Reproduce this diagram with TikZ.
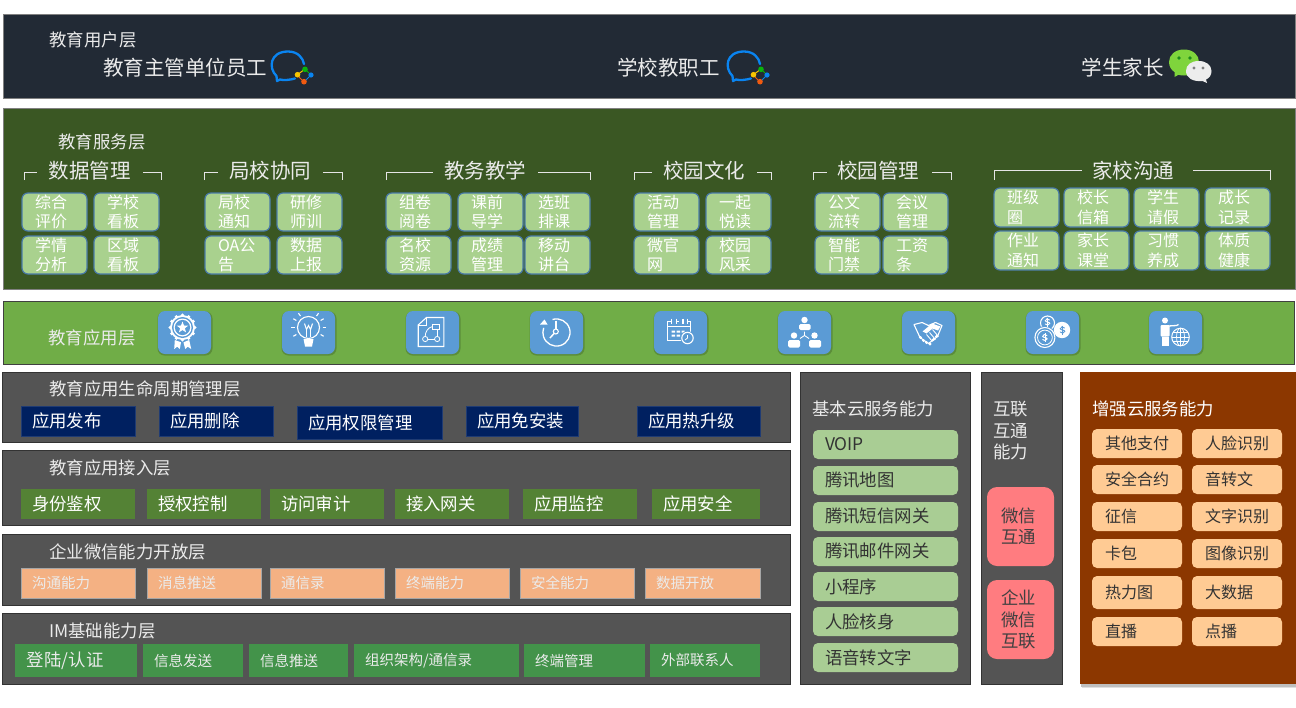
\documentclass[tikz,border=0pt]{standalone}
\usepackage{fontspec}
\setmainfont{Noto Sans CJK SC}
\newcounter{bxc}
\newcommand\mybox[7][11]{\stepcounter{bxc}\edef\bxname{b\arabic{bxc}}%
  \node[#2,inner sep=0pt,outer sep=0pt,align=left,minimum width={(#5-#3)*1pt},minimum height={(#6-#4)*1pt},text width={(#5-#3-2*#1)*1pt}] (\bxname) at ({(#3+#5)/2},{(#4+#6)/2}) {#7};}
\newcommand\tile[6][13]{\mybox[#1]{tilebox}{#2}{#3}{#4}{#5}{#6}}
\tikzset{
  f14/.style={font=\fontsize{14.5}{18}\selectfont},
  f16/.style={font=\fontsize{16}{19.5}\selectfont},
  f17/.style={font=\fontsize{17.4}{21.5}\selectfont},
  f20/.style={font=\fontsize{20.5}{24}\selectfont},
  lab/.style={f17,text=#1,anchor=west,inner sep=0pt},
  lab/.default=white!92!black,
  bar/.style={draw=#1,line width=.8pt},
  tilebox/.style={f16,rounded corners=6pt,draw=tileedge,line width=1.2pt,fill=tilefill,text=white},
  blu/.style={f17,fill=navyb,draw=navyb!88!white,line width=.4pt,text=white},
  grn/.style={f17,fill=greenb,text=white},
  org/.style={f14,fill=orangeb,draw=gray!70,line width=.3pt,text=white!92!black},
  img/.style={f14,fill=imgreen,text=white!92!black},
  imb/.style={f17,fill=imgreen,text=white!92!black},
  cloud/.style={f17,fill=cloudg,rounded corners=5pt,text=black!80},
  pinkb/.style={f17,fill=pinkc,rounded corners=10pt,text=black!75},
  peach/.style={f16,fill=peachc,rounded corners=5pt,text=black!80},
  brk/.style={draw=white!90!black,line width=1pt},
  ic/.style={draw=white,fill=none,line width=1.1pt},
}
\definecolor{topc}{HTML}{222A35}
\definecolor{svc}{HTML}{3A5723}
\definecolor{appc}{HTML}{70AD47}
\definecolor{panelc}{HTML}{545454}
\definecolor{brownc}{HTML}{8C3700}
\definecolor{tilefill}{HTML}{A9D18E}
\definecolor{tileedge}{HTML}{4A7BA8}
\definecolor{navyb}{HTML}{002060}
\definecolor{greenb}{HTML}{548235}
\definecolor{orangeb}{HTML}{F4B183}
\definecolor{imgreen}{HTML}{43934A}
\definecolor{cloudg}{HTML}{A9CD94}
\definecolor{pinkc}{HTML}{FF7C80}
\definecolor{peachc}{HTML}{FFCB94}
\definecolor{icoblue}{HTML}{5B9BD5}
\definecolor{wwblue}{HTML}{0A84F0}
\definecolor{wwgreen}{HTML}{0BB30B}
\definecolor{wworange}{HTML}{F05A10}
\definecolor{wwyellow}{HTML}{F7C400}
\definecolor{wxgreen}{HTML}{7FD43C}
\definecolor{wxdark}{HTML}{1C8A1C}
\newcommand\wework[1]{\begin{scope}[shift={(#1,0)}]
  \draw[draw=wwblue,line width=2.3pt,line cap=round,line join=round] (295,78.5) .. controls (290,80) and (283,80.5) .. (280,79.5) -- (277,81) -- (276.5,76) .. controls (268,68) and (270,51.5) .. (288,51.5) .. controls (298,51.5) and (303,58) .. (304,64);
  \draw[draw=wwgreen,line width=1pt] (305,69) -- (311,75);
  \draw[draw=wwblue,line width=1pt] (311,75) -- (304,82);
  \draw[draw=wworange,line width=1pt] (304,82) -- (297,75);
  \draw[draw=wwyellow,line width=1pt] (297,75) -- (305,69);
  \fill[wwgreen] (305,69.3) circle[radius=2.8];
  \fill[wwblue] (311,75) circle[radius=2.6];
  \fill[wworange] (304,81.7) circle[radius=2.8];
  \fill[wwyellow] (297.5,74.7) circle[radius=2.8];
\end{scope}}
\newcommand\tileico[2]{\fill[black,opacity=.18,rounded corners=7pt] (#1-.5,311.5) rectangle (#1+54.5,355.5);
  \stepcounter{bxc}\edef\bxname{b\arabic{bxc}}\node[rounded corners=7pt,fill=icoblue,inner sep=0pt,minimum width=53pt,minimum height=43pt] (\bxname) at (#1+26.5,332.5) {};
  \begin{scope}[shift={(#1+26.5,332.5)}] #2 \end{scope}}
\newcommand\mydollar[3]{\draw[#3,line width=1pt,line cap=round] (#1+2,#2-2) .. controls (#1+1,#2-3.5) and (#1-2.5,#2-3.5) .. (#1-2.2,#2-1.2) .. controls (#1-2,#2+.3) and (#1+2.3,#2-.3) .. (#1+2.2,#2+1.4) .. controls (#1+2,#2+3.5) and (#1-1.5,#2+3.5) .. (#1-2.2,#2+2);
  \draw[#3,line width=.7pt] (#1,#2-4.5) -- (#1,#2+4.5);}
\begin{document}
\begin{tikzpicture}[x=1pt,y=-1pt]
\useasboundingbox (0,0) rectangle (1296,707);
\fill[white] (0,0) rectangle (1296,707);
% top layer
\mybox{bar=gray,fill=topc}{3}{14}{1295}{98}{}
\node[lab,anchor=center] (u0) at (93,40) {教育用户层};
\node[f20,text=white!92!black,inner sep=0pt] (u1) at (185,68) {教育主管单位员工};
\node[f20,text=white!92!black,inner sep=0pt] (u2) at (668.5,68) {学校教职工};
\node[f20,text=white!92!black,inner sep=0pt] (u3) at (1122.5,68) {学生家长};
\wework{0}\wework{456}
% wechat
\fill[wxgreen] (1184,49.5) .. controls (1193,49.5) and (1199,55) .. (1199,62) .. controls (1199,70) and (1192,75.5) .. (1184,75.5) .. controls (1182,75.5) and (1180,75.3) .. (1178.5,74.8) -- (1174.5,77) -- (1174.5,72) .. controls (1171,70) and (1169,66) .. (1169,62) .. controls (1169,55) and (1175,49.5) .. (1184,49.5) -- cycle;
\fill[wxdark] (1179,58) circle[radius=1.9] (1190,58) circle[radius=1.9];
\fill[white!93!black] (1198.7,61) .. controls (1206,61) and (1211.5,65) .. (1211.5,71) .. controls (1211.5,75) and (1209.5,78) .. (1206,79.5) -- (1207,83) -- (1202.5,81) .. controls (1193,82) and (1186,78) .. (1186,71) .. controls (1186,65) and (1191,61) .. (1198.7,61) -- cycle;
\fill[gray] (1194,68) circle[radius=1.7] (1203,68) circle[radius=1.7];
% service layer
\mybox{bar=gray,fill=svc}{3}{108}{1295}{289}{}
\node[lab,anchor=center] (s0) at (102,142) {教育服务层};
\node[f20,text=white!92!black,inner sep=0pt] (h1) at (89.5,171) {数据管理};
\node[f20,text=white!92!black,inner sep=0pt] (h2) at (270,171) {局校协同};
\node[f20,text=white!92!black,inner sep=0pt] (h3) at (485,171) {教务教学};
\node[f20,text=white!92!black,inner sep=0pt] (h4) at (704,171) {校园文化};
\node[f20,text=white!92!black,inner sep=0pt] (h5) at (878,171) {校园管理};
\node[f20,text=white!92!black,inner sep=0pt] (h6) at (1133,171) {家校沟通};
\draw[brk] (24,180)--(24,172)--(37,172); \draw[brk] (143,172)--(161,172)--(161,180);
\draw[brk] (204,180)--(204,172)--(218,172); \draw[brk] (323,172)--(342,172)--(342,180);
\draw[brk] (386,180)--(386,172)--(433,172); \draw[brk] (538,172)--(590,172)--(590,180);
\draw[brk] (634,180)--(634,172)--(652,172); \draw[brk] (757,172)--(771,172)--(771,180);
\draw[brk] (813,180)--(813,172)--(827,172); \draw[brk] (932,172)--(951,172)--(951,180);
\draw[brk] (994,180)--(994,170)--(1082,170); \draw[brk] (1193,170)--(1270,170)--(1270,180);
\tile{22}{193}{87}{231}{综合\\评价}\tile{94}{193}{159}{231}{学校\\看板}
\tile{22}{236}{87}{274}{学情\\分析}\tile{94}{236}{159}{274}{区域\\看板}
\tile{205}{193}{270}{231}{局校\\通知}\tile{277}{193}{342}{231}{研修\\师训}
\tile{205}{236}{270}{274}{OA公\\告}\tile{277}{236}{342}{274}{数据\\上报}
\tile{386}{193}{451}{231}{组卷\\阅卷}\tile{458}{193}{523}{231}{课前\\导学}\tile{525}{193}{590}{231}{选班\\排课}
\tile{386}{236}{451}{274}{名校\\资源}\tile{458}{236}{523}{274}{成绩\\管理}\tile{525}{236}{590}{274}{移动\\讲台}
\tile{634}{193}{699}{231}{活动\\管理}\tile{706}{193}{771}{231}{一起\\悦读}
\tile{634}{236}{699}{274}{微官\\网}\tile{706}{236}{771}{274}{校园\\风采}
\tile{815}{193}{880}{231}{公文\\流转}\tile{883}{193}{948}{231}{会议\\管理}
\tile{815}{236}{880}{274}{智能\\门禁}\tile{883}{236}{948}{274}{工资\\条}
\tile{994}{188}{1059}{227}{班级\\圈}\tile{1064}{188}{1129}{227}{校长\\信箱}\tile{1134}{188}{1199}{227}{学生\\请假}\tile{1205}{188}{1270}{227}{成长\\记录}
\tile{994}{231}{1059}{270}{作业\\通知}\tile{1064}{231}{1129}{270}{家长\\课堂}\tile{1134}{231}{1199}{270}{习惯\\养成}\tile{1205}{231}{1270}{270}{体质\\健康}
% app layer
\mybox{bar=black!75,fill=appc}{3}{301}{1294}{364}{}
\node[lab,anchor=center] (a0) at (92,338) {教育应用层};
\tileico{158}{
  \foreach \a in {0,30,...,330} {\fill[white] ([shift={(-2,-5)}]\a:12.3) circle[radius=1.9];}
  \fill[white] (-2,-5) circle[radius=12.5];
  \fill[icoblue] (-2,-5) circle[radius=10.5];
  \fill[white] (-2,-5) circle[radius=9];
  \fill[icoblue] (-2,-5) circle[radius=7.6];
  \fill[white] ([shift={(-2,-5)}]-90:6) -- ([shift={(-2,-5)}]-54:2.5) -- ([shift={(-2,-5)}]-18:6) -- ([shift={(-2,-5)}]18:2.5) -- ([shift={(-2,-5)}]54:6) -- ([shift={(-2,-5)}]90:2.5) -- ([shift={(-2,-5)}]126:6) -- ([shift={(-2,-5)}]162:2.5) -- ([shift={(-2,-5)}]198:6) -- ([shift={(-2,-5)}]234:2.5) -- cycle;
  \fill[white] (-9.7,7.5) -- (-3.5,9.8) -- (-4.7,16.5) -- (-7.3,14.2) -- (-10.3,16.5) -- cycle;
  \fill[white] (-1,9.8) -- (4.7,7.5) -- (6.7,16.5) -- (3.3,14.2) -- (0.7,16.5) -- cycle;
}
\tileico{282}{
  \draw[ic] (0,-5) circle[radius=11];
  \fill[white] (-5,6.5) -- (5,6.5) -- (3.5,14) -- (-3.5,14) -- cycle;
  \draw[ic] (-4,-9) -- (-2,-3) -- (0,-7) -- (2,-3) -- (4,-9);
  \draw[ic] (-2,-3) -- (-2,4) (2,-3) -- (2,4);
  \foreach \a in {-150,-125,-55,-30,0,180,30,150} {\draw[ic] ([shift={(0,-5)}]\a:14) -- ([shift={(0,-5)}]\a:17.5);}
}
\tileico{406}{
  \draw[ic] (-14.3,-7.5) -- (-6,-15) -- (11.3,-15) -- (11.3,14) -- (-14.3,14) -- cycle;
  \draw[ic,line width=.8pt] (-6,-15) -- (-6,-7.5) -- (-14.3,-7.5);
  \draw[ic,line width=.8pt] (0,-8) rectangle (7.3,-3.5);
  \draw[ic,line width=.8pt] (-7.3,6.5) circle[radius=2.6] (4.7,6.5) circle[radius=2.6];
  \draw[ic,line width=.8pt] (-4.7,6.5) -- (2,6.5) (4.7,-3.5) -- (4.7,3.9);
  \draw[ic,line width=.8pt] (0,-6) .. controls (-5,-5) and (-7.3,0) .. (-7.3,3.9);
}
\tileico{530}{
  \draw[ic,line width=1.3pt] (-4,-13) arc[start angle=-107,end angle=200,radius=13.6];
  \fill[white] (-16.5,-8) -- (-9,-8) -- (-12,-13) -- cycle;
  \draw[ic,line width=1.5pt] (-.7,-12) -- (-.7,-4);
  \draw[ic] (-.7,-1) circle[radius=2.5];
  \draw[ic,line width=1.5pt] (-2.5,1) -- (-6.5,5.5);
}
\tileico{654}{
  \draw[ic] (6,-11) -- (10,-11) -- (10,-1) (2,8) -- (-13,8) -- (-13,-11) -- (-9,-11);
  \draw[ic] (-13,-6) -- (10,-6);
  \draw[ic] (-5,-11) -- (-2,-11) (2,-11) -- (3,-11);
  \draw[ic] (-9,-14) -- (-9,-8.5) (-4,-14) -- (-4,-8.5) (2.5,-14) -- (2.5,-8.5) (7,-14) -- (7,-8.5);
  \fill[white] (-9,-2) rectangle (-5.5,0) (-4,-2) rectangle (-.5,0) (1,-2) rectangle (4,0) (-9,2) rectangle (-5.5,4) (-4,2) rectangle (-.5,4);
  \fill[icoblue] (7,5.5) circle[radius=7];
  \draw[ic] (7,5.5) circle[radius=5.7];
  \draw[ic,line width=.8pt] (7,2.5) -- (7,5.5) -- (4.5,7.5);
}
\tileico{778}{
  \fill[white] (0,-12.5) circle[radius=3.2];
  \fill[white,rounded corners=1.5pt] (-5.5,-8.5) rectangle (6,-2.5);
  \fill[white] (-10.5,3) circle[radius=3.2];
  \fill[white,rounded corners=1.5pt] (-16.5,7.5) rectangle (-4.5,15);
  \fill[white] (10,3) circle[radius=3.2];
  \fill[white,rounded corners=1.5pt] (4.5,7.5) rectangle (16.5,15);
  \draw[ic,line width=.9pt] (0,-1) -- (0,3) -- (-4.5,6) (0,3) -- (4.5,6);
}
\tileico{902}{
  \draw[ic,line join=round] (-14.5,-8) -- (-6.5,-10) -- (0,-7) -- (7,-10) -- (13.5,-7) -- (9,4) -- (0,11) -- (-8.5,5) -- cycle;
  \fill[white] (-6,-1) -- (3.5,-9) -- (12,-6) -- (9.5,-2) -- (4,-4) -- (-2,1) -- cycle;
  \fill[white] (-8,5) circle[radius=1.6] (-5,8) circle[radius=1.6] (-2,10) circle[radius=1.6] (1.5,11.5) circle[radius=1.6] (5,7) circle[radius=1.6] (8,4) circle[radius=1.6];
  \draw[ic,line width=.9pt] (4,-3) -- (10,4) (1,0) -- (7,7) (-2,2) -- (4,9);
}
\tileico{1026}{
  \draw[ic] (-5,-9.5) circle[radius=7];
  \fill[icoblue] (-7.6,5) circle[radius=11.5];
  \draw[ic] (-7.6,5) circle[radius=10];
  \draw[ic,line width=.8pt] (-7.6,5) circle[radius=7.4];
  \mydollar{-7.6}{5}{white}
  \mydollar{-5}{-10.5}{white}
  \fill[white] (9.5,-2.5) circle[radius=8.2];
  \mydollar{10}{-2.5}{icoblue}
}
\tileico{1149}{
  \fill[white] (-10.5,-12) circle[radius=3];
  \fill[white,rounded corners=1pt] (-15,-7.5) rectangle (-6,4);
  \fill[white] (-13.5,4) rectangle (-7,13);
  \draw[ic,line width=1.3pt] (-7,-6.5) -- (1,-7) -- (3,-8);
  \fill[icoblue] (5,4.5) circle[radius=10];
  \draw[ic,line width=1pt] (5,4.5) circle[radius=8.8];
  \draw[ic,line width=.7pt] (5,4.5) ellipse[x radius=4,y radius=8.8];
  \draw[ic,line width=.7pt] (5,-4.3) -- (5,13.3) (-3.8,4.5) -- (13.8,4.5) (-2.7,.2) -- (12.7,.2) (-2.7,8.8) -- (12.7,8.8);
}
% dark layers
\mybox{bar=black!80,fill=panelc}{2}{372}{790}{442}{}
\mybox{bar=black!80,fill=panelc}{2}{450}{790}{525}{}
\mybox{bar=black!80,fill=panelc}{2}{534}{790}{605}{}
\mybox{bar=black!80,fill=panelc}{2}{613}{790}{684}{}
\node[lab] (l1) at (49,388.5) {教育应用生命周期管理层};
\node[lab] (l2) at (49,467.5) {教育应用接入层};
\node[lab] (l3) at (49,551.5) {企业微信能力开放层};
\node[lab] (l4) at (49,630.5) {IM基础能力层};
\mybox{blu}{21}{406}{135}{436}{应用发布}
\mybox{blu}{159}{406}{273}{436}{应用删除}
\mybox{blu}{297}{406}{442}{439}{应用权限管理}
\mybox{blu}{466}{406}{578}{436}{应用免安装}
\mybox{blu}{637}{406}{760}{436}{应用热升级}
\mybox{grn}{21}{489}{135}{519}{身份鉴权}
\mybox{grn}{147}{489}{261}{519}{授权控制}
\mybox{grn}{270}{489}{384}{519}{访问审计}
\mybox{grn}{395}{489}{509}{519}{接入网关}
\mybox{grn}{523}{489}{637}{519}{应用监控}
\mybox{grn}{652}{489}{760}{519}{应用安全}
\mybox{org}{21}{568}{135}{598}{沟通能力}
\mybox{org}{147}{568}{261}{598}{消息推送}
\mybox{org}{270}{568}{384}{598}{通信录}
\mybox{org}{395}{568}{509}{598}{终端能力}
\mybox{org}{520}{568}{634}{598}{安全能力}
\mybox{org}{645}{568}{760}{598}{数据开放}
\mybox[12]{imb}{15}{644}{137}{677}{登陆/认证}
\mybox{img}{143}{644}{243}{677}{信息发送}
\mybox{img}{249}{644}{348}{677}{信息推送}
\mybox{img}{354}{644}{519}{677}{组织架构/通信录}
\mybox{img}{524}{644}{645}{677}{终端管理}
\mybox{img}{650}{644}{760}{677}{外部联系人}
% right panels
\mybox{bar=black!80,fill=panelc}{800}{372}{970}{684}{}
\node[lab] (c0) at (812,409) {基本云服务能力};
\mybox[12]{cloud}{813}{430}{958}{459}{VOIP}
\mybox[12]{cloud}{813}{466}{958}{495}{腾讯地图}
\mybox[12]{cloud}{813}{502}{958}{531}{腾讯短信网关}
\mybox[12]{cloud}{813}{537}{958}{566}{腾讯邮件网关}
\mybox[12]{cloud}{813}{572}{958}{601}{小程序}
\mybox[12]{cloud}{813}{607}{958}{636}{人脸核身}
\mybox[12]{cloud}{813}{643}{958}{672}{语音转文字}
\mybox{bar=black!80,fill=panelc}{981}{372}{1062}{684}{}
\node[lab,align=left] (i0) at (993,431) {互联\\互通\\能力};
\mybox[14]{pinkb}{987}{487}{1054}{566}{微信\\互通}
\mybox[14]{pinkb}{987}{580}{1054}{659}{企业\\微信\\互联}
\fill[black!12] (1082,375) rectangle (1296,688);
\fill[black!25] (1081,375) rectangle (1296,686.5);
\mybox{fill=brownc}{1080}{372}{1296}{684}{}
\node[lab=white] (e0) at (1092,409) {增强云服务能力};
\mybox[13]{peach}{1092}{429}{1182}{458}{其他支付}\mybox[13]{peach}{1192}{429}{1282}{458}{人脸识别}
\mybox[13]{peach}{1092}{465}{1182}{494}{安全合约}\mybox[13]{peach}{1192}{465}{1282}{494}{音转文}
\mybox[13]{peach}{1092}{502}{1182}{531}{征信}\mybox[13]{peach}{1192}{502}{1282}{531}{文字识别}
\mybox[13]{peach}{1092}{539}{1182}{568}{卡包}\mybox[13]{peach}{1192}{539}{1282}{568}{图像识别}
\mybox[13]{peach}{1092}{576}{1182}{609}{热力图}\mybox[13]{peach}{1192}{576}{1282}{609}{大数据}
\mybox[13]{peach}{1092}{617}{1182}{646}{直播}\mybox[13]{peach}{1192}{617}{1282}{646}{点播}
\end{tikzpicture}
\end{document}
